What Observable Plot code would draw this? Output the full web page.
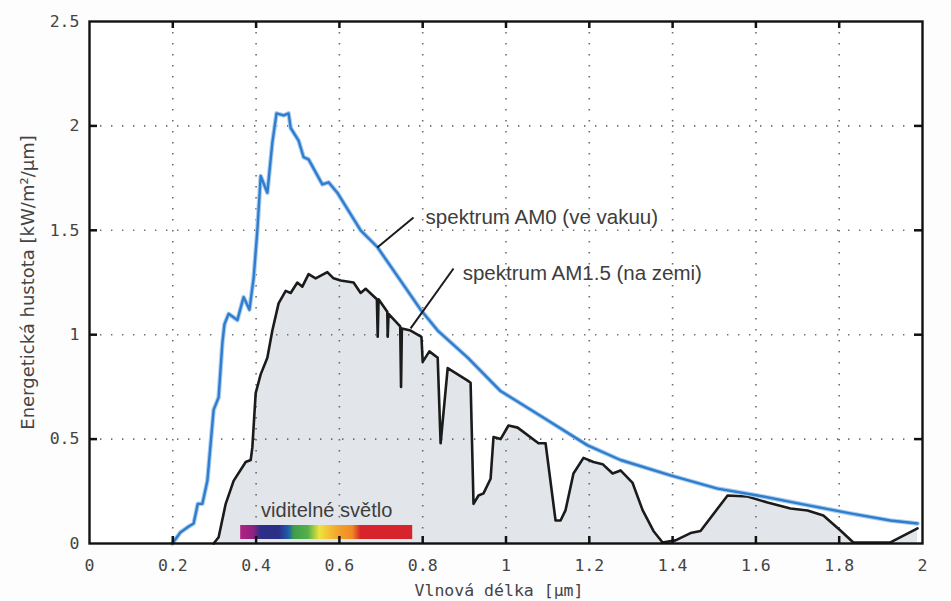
<!DOCTYPE html>
<html>
<head>
<meta charset="utf-8">
<script src="https://cdn.jsdelivr.net/npm/d3@7"></script>
<script src="https://cdn.jsdelivr.net/npm/@observablehq/plot@0.6"></script>
<style>
  html, body { margin: 0; padding: 0; background: #fdfdfd; }
  #chart svg { display: block; }
</style>
</head>
<body>
<div id="chart"></div>
<script>
// Solar spectral irradiance: extraterrestrial (AM0) and at ground level (AM1.5)
const am0Wavelength = [0.199, 0.218, 0.238, 0.250, 0.260, 0.271, 0.283, 0.298, 0.310, 0.319, 0.324, 0.334, 0.355, 0.370, 0.384, 0.394, 0.403, 0.411, 0.427, 0.439, 0.449, 0.466, 0.478, 0.483, 0.502, 0.514, 0.526, 0.559, 0.574, 0.595, 0.651, 0.691, 0.795, 0.836, 0.908, 0.987, 1.100, 1.196, 1.275, 1.395, 1.508, 1.604, 1.707, 1.827, 1.923, 1.988];
const am0Irradiance = [0, 0.053, 0.081, 0.096, 0.19, 0.19, 0.30, 0.64, 0.70, 0.96, 1.05, 1.10, 1.07, 1.18, 1.12, 1.27, 1.50, 1.76, 1.68, 1.92, 2.06, 2.05, 2.06, 1.99, 1.93, 1.85, 1.84, 1.72, 1.73, 1.68, 1.50, 1.42, 1.12, 1.02, 0.89, 0.73, 0.59, 0.47, 0.40, 0.326, 0.263, 0.23, 0.19, 0.144, 0.11, 0.096];

const am15Wavelength = [0.298, 0.310, 0.327, 0.346, 0.375, 0.387, 0.391, 0.399, 0.411, 0.427, 0.439, 0.454, 0.471, 0.483, 0.499, 0.511, 0.526, 0.543, 0.571, 0.586, 0.603, 0.634, 0.651, 0.663, 0.690, 0.692, 0.694, 0.715, 0.716, 0.718, 0.746, 0.748, 0.750, 0.771, 0.797, 0.800, 0.816, 0.836, 0.843, 0.860, 0.908, 0.915, 0.922, 0.934, 0.946, 0.963, 0.970, 0.987, 1.006, 1.028, 1.078, 1.095, 1.119, 1.131, 1.143, 1.162, 1.186, 1.210, 1.232, 1.256, 1.275, 1.304, 1.328, 1.354, 1.376, 1.407, 1.443, 1.467, 1.532, 1.580, 1.628, 1.683, 1.724, 1.762, 1.803, 1.834, 1.923, 1.988];
const am15Irradiance = [0, 0.03, 0.19, 0.30, 0.39, 0.40, 0.46, 0.72, 0.81, 0.89, 1.02, 1.15, 1.21, 1.20, 1.25, 1.23, 1.29, 1.27, 1.30, 1.27, 1.26, 1.25, 1.20, 1.22, 1.17, 0.99, 1.17, 1.11, 0.99, 1.10, 1.04, 0.75, 1.03, 1.02, 0.99, 0.87, 0.92, 0.89, 0.48, 0.84, 0.78, 0.77, 0.19, 0.23, 0.24, 0.31, 0.51, 0.50, 0.565, 0.555, 0.48, 0.48, 0.11, 0.11, 0.16, 0.335, 0.41, 0.39, 0.38, 0.335, 0.35, 0.29, 0.16, 0.06, 0.005, 0.015, 0.05, 0.06, 0.23, 0.225, 0.196, 0.168, 0.158, 0.134, 0.062, 0.005, 0.005, 0.072];

// Visible band and its colour stops
const visibleRange = [0.363, 0.776];
const visibleStopWavelength = [0.363, 0.395, 0.412, 0.455, 0.478, 0.492, 0.525, 0.553, 0.575, 0.600, 0.632, 0.652, 0.776];
const visibleStopColor = ["#b3227f", "#8c2282", "#2c2f85", "#2c2f85", "#1d5cae", "#3f9f48", "#52b04a", "#ece43c", "#f4c035", "#f3a12b", "#ef8a25", "#d7232b", "#d7232b"];

// Axis ticks
const xTicks = [0, 0.2, 0.4, 0.6, 0.8, 1, 1.2, 1.4, 1.6, 1.8, 2];
const yTicks = [0, 0.5, 1, 1.5, 2, 2.5];

// Callout labels
const calloutText = ["spektrum AM0 (ve vakuu)", "spektrum AM1.5 (na zemi)"];
const calloutX = [0.807, 0.896];
const calloutY = [1.561, 1.293];
const leaderX1 = [0.778, 0.874];
const leaderY1 = [1.561, 1.317];
const leaderX2 = [0.691, 0.771];
const leaderY2 = [1.418, 1.030];

const am0 = am0Wavelength.map((w, i) => ({w, e: am0Irradiance[i]}));
const am15 = am15Wavelength.map((w, i) => ({w, e: am15Irradiance[i]}));
const callouts = calloutText.map((t, i) => ({
  t, x: calloutX[i], y: calloutY[i],
  x1: leaderX1[i], y1: leaderY1[i], x2: leaderX2[i], y2: leaderY2[i]
}));

// Gradient definition for the visible-light bar
const [v0, v1] = visibleRange;
const gradientDefs = () => {
  const defs = d3.create("svg:defs");
  const g = defs.append("linearGradient")
    .attr("id", "visible-spectrum")
    .attr("x1", "0%").attr("x2", "100%").attr("y1", "0%").attr("y2", "0%");
  visibleStopWavelength.forEach((w, i) => {
    g.append("stop")
      .attr("offset", `${((w - v0) / (v1 - v0)) * 100}%`)
      .attr("stop-color", visibleStopColor[i]);
  });
  return defs.node();
};

const mono = "'DejaVu Sans Mono', monospace";
const sans = "'Liberation Sans', Arial, sans-serif";

const chart = Plot.plot({
  width: 951,
  height: 601,
  marginLeft: 89,
  marginRight: 29,
  marginTop: 21,
  marginBottom: 58,
  style: {background: "#fdfdfd", fontFamily: mono, fontSize: "16px", color: "#444"},
  x: {domain: [0, 2]},
  y: {domain: [0, 2.5]},
  marks: [
    gradientDefs,
    Plot.frame({fill: "#ffffff"}),
    // AM1.5 shaded area
    Plot.areaY(am15, {x: "w", y: "e", fill: "#e2e5e9"}),
    // dotted grid
    Plot.gridX(xTicks.slice(1, -1), {stroke: "#555", strokeOpacity: 0.85, strokeWidth: 1.6, strokeDasharray: "1.4,9.6"}),
    Plot.gridY(yTicks.slice(1, -1), {stroke: "#555", strokeOpacity: 0.85, strokeWidth: 1.6, strokeDasharray: "1.4,9.6"}),
    // visible light band
    Plot.rect([visibleRange], {x1: d => d[0], x2: d => d[1], fill: "url(#visible-spectrum)", insetTop: 504, insetBottom: 4}),
    Plot.text(["viditelné světlo"], {
      x: () => (v0 + v1) / 2, frameAnchor: "bottom", lineAnchor: "middle", dy: -33,
      text: d => d, fontFamily: sans, fontSize: 20, fill: "#3d3d3d"
    }),
    // spectra
    Plot.line(am15, {x: "w", y: "e", stroke: "#1b1b1b", strokeWidth: 2.6, strokeLinejoin: "round"}),
    Plot.line(am0, {x: "w", y: "e", stroke: "#a9cdf0", strokeWidth: 4.5, strokeLinejoin: "round"}),
    Plot.line(am0, {x: "w", y: "e", stroke: "#2f7dcc", strokeWidth: 2.4, strokeLinejoin: "round"}),
    // callouts
    Plot.link(callouts, {x1: "x1", y1: "y1", x2: "x2", y2: "y2", stroke: "#1b1b1b", strokeWidth: 2}),
    Plot.text(callouts, {x: "x", y: "y", text: "t", textAnchor: "start", fontFamily: sans, fontSize: 20.5, fill: "#3d3d3d"}),
    // inward ticks on all four sides
    Plot.tickX(xTicks.slice(1, -1), {x: d => d, stroke: "#111", strokeWidth: 2.5, insetTop: 515}),
    Plot.tickX(xTicks.slice(1, -1), {x: d => d, stroke: "#111", strokeWidth: 2.5, insetBottom: 515}),
    Plot.tickY(yTicks.slice(1, -1), {y: d => d, stroke: "#111", strokeWidth: 2.5, insetRight: 825}),
    Plot.tickY(yTicks.slice(1, -1), {y: d => d, stroke: "#111", strokeWidth: 2.5, insetLeft: 825}),
    // axes
    Plot.axisX(xTicks, {tickSize: 0, tickPadding: 16, tickFormat: d => String(d), label: null, fontFamily: mono, fontSize: 16.5, fill: "#444"}),
    Plot.axisY(yTicks, {tickSize: 0, tickPadding: 10, tickFormat: d => String(d), label: null, fontFamily: mono, fontSize: 16.5, fill: "#444"}),
    Plot.text(["Vlnová délka [μm]"], {frameAnchor: "bottom", lineAnchor: "middle", dy: 47, dx: -7, text: d => d, fontFamily: mono, fontSize: 16.5, fill: "#444"}),
    Plot.text(["Energetická hustota [kW/m²/μm]"], {frameAnchor: "left", textAnchor: "middle", lineAnchor: "middle", dx: -61, rotate: -90, text: d => d, fontFamily: "'DejaVu Sans', sans-serif", fontSize: 18, fill: "#444"}),
    Plot.frame({stroke: "#111", strokeWidth: 2.4})
  ]
});

document.getElementById("chart").appendChild(chart);
</script>
</body>
</html>
